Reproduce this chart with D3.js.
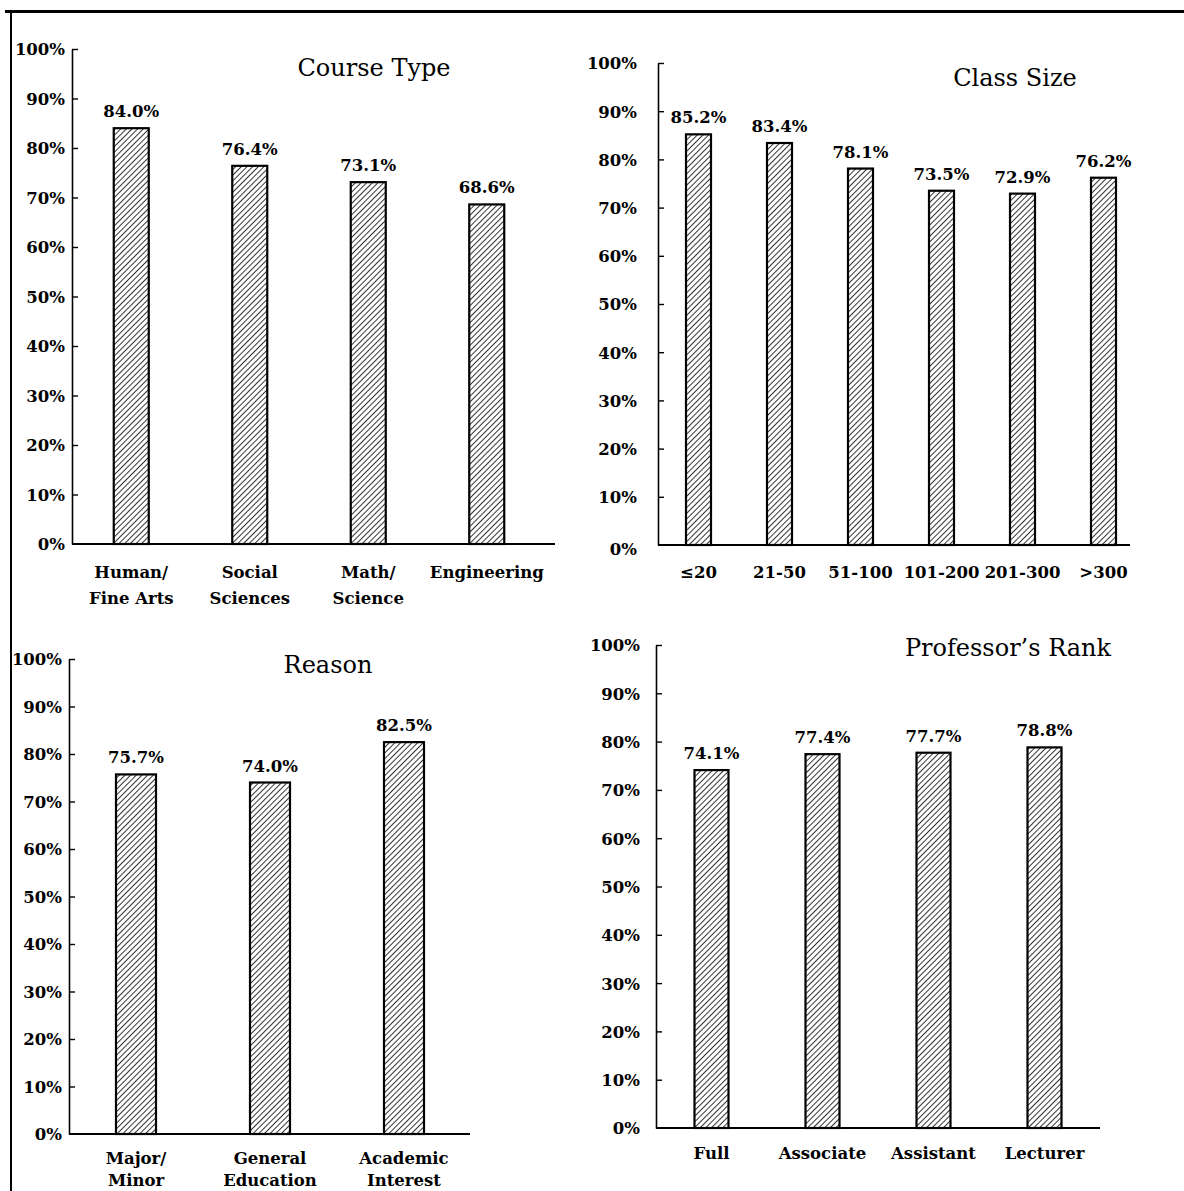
<!DOCTYPE html>
<html>
<head>
<meta charset="utf-8">
<script src="https://cdn.jsdelivr.net/npm/d3@7"></script>
<style>
  body { margin: 0; background: #fff; }
  svg { display: block; }
  .tick text { font-family: "DejaVu Serif", serif; font-weight: bold; font-size: 16.5px; fill: #000; }
</style>
</head>
<body>
<svg id="chart"></svg>
<script>
// data (percent)
const yTicks = [0, 10, 20, 30, 40, 50, 60, 70, 80, 90, 100];

const courseTypes = ["Human/\nFine Arts", "Social\nSciences", "Math/\nScience", "Engineering"];
const courseValues = [84.0, 76.4, 73.1, 68.6];

const classSizes = ["\u226420", "21-50", "51-100", "101-200", "201-300", ">300"];
const classValues = [85.2, 83.4, 78.1, 73.5, 72.9, 76.2];

const reasons = ["Major/\nMinor", "General\nEducation", "Academic\nInterest"];
const reasonValues = [75.7, 74.0, 82.5];

const ranks = ["Full", "Associate", "Assistant", "Lecturer"];
const rankValues = [74.1, 77.4, 77.7, 78.8];

const width = 1184, height = 1191;

const svg = d3.select('#chart')
    .attr('width', width)
    .attr('height', height);

// diagonal hatching for the bars
svg.append('defs').append('pattern')
    .attr('id', 'hatch')
    .attr('patternUnits', 'userSpaceOnUse')
    .attr('width', 4)
    .attr('height', 4)
    .attr('patternTransform', 'rotate(45)')
    .append('line')
    .attr('x1', 0).attr('y1', 0)
    .attr('x2', 0).attr('y2', 4)
    .attr('stroke', '#000')
    .attr('stroke-width', 1.6);

// page frame (top and left rule)
svg.append('line')
    .attr('x1', 5).attr('x2', width)
    .attr('y1', 11.5).attr('y2', 11.5)
    .attr('stroke', '#000').attr('stroke-width', 3);
svg.append('line')
    .attr('x1', 11).attr('x2', 11)
    .attr('y1', 10).attr('y2', height)
    .attr('stroke', '#000').attr('stroke-width', 2);

function drawPanel(cfg) {
    const g = svg.append('g');

    const yScale = d3.scaleLinear()
        .domain([0, 100])
        .range([cfg.y0, cfg.y100]);

    const xScale = d3.scalePoint()
        .domain(cfg.categories)
        .range([cfg.x0, cfg.x0 + cfg.step * cfg.categories.length])
        .padding(0.5);

    const yAxis = d3.axisLeft(yScale)
        .tickValues(yTicks)
        .tickFormat(d => d + '%')
        .tickSizeInner(-6)
        .tickSizeOuter(0)
        .tickPadding(cfg.labelGap);

    const yAxisGroup = g.append('g')
        .attr('transform', `translate(${cfg.x0}, 0)`)
        .call(yAxis);
    yAxisGroup.select('.domain').attr('stroke-width', 1.6);
    yAxisGroup.selectAll('.tick line').attr('stroke-width', 1.4);
    yAxisGroup.selectAll('.tick').filter(d => d === 0).remove();
    yAxisGroup.selectAll('.tick text').attr('dy', '0.36em');

    // 0% label sits slightly below the baseline
    g.append('text')
        .attr('x', cfg.x0 - cfg.labelGap)
        .attr('y', yScale(0) + 6 + cfg.zeroDrop)
        .attr('text-anchor', 'end')
        .style('font-family', '"DejaVu Serif", serif')
        .style('font-weight', 'bold')
        .style('font-size', '16.5px')
        .text('0%');

    // x baseline
    g.append('line')
        .attr('x1', cfg.x0).attr('x2', cfg.xEnd)
        .attr('y1', yScale(0)).attr('y2', yScale(0))
        .attr('stroke', '#000').attr('stroke-width', 2);

    const rows = cfg.categories.map((c, i) => ({ cat: c, value: cfg.values[i] }));

    g.selectAll('rect.bar')
        .data(rows)
        .join('rect')
        .attr('class', 'bar')
        .attr('x', d => xScale(d.cat) - cfg.barWidth / 2)
        .attr('y', d => yScale(d.value))
        .attr('width', cfg.barWidth)
        .attr('height', d => yScale(0) - yScale(d.value))
        .attr('fill', 'url(#hatch)')
        .attr('stroke', '#000')
        .attr('stroke-width', 2.2);

    // value labels
    g.selectAll('text.val')
        .data(rows)
        .join('text')
        .attr('class', 'val')
        .attr('x', d => xScale(d.cat))
        .attr('y', d => yScale(d.value) - 11)
        .attr('text-anchor', 'middle')
        .style('font-family', '"DejaVu Serif", serif')
        .style('font-weight', 'bold')
        .style('font-size', '16.5px')
        .text(d => d.value.toFixed(1) + '%');

    // category labels (may be two lines)
    const cats = g.selectAll('text.cat')
        .data(rows)
        .join('text')
        .attr('class', 'cat')
        .attr('text-anchor', 'middle')
        .style('font-family', '"DejaVu Serif", serif')
        .style('font-weight', 'bold')
        .style('font-size', '16.5px');
    cats.selectAll('tspan')
        .data(d => d.cat.split('\n').map(line => ({ line, x: xScale(d.cat) })))
        .join('tspan')
        .attr('x', d => d.x)
        .attr('y', (d, i) => yScale(0) + cfg.catDrop + i * cfg.lineGap)
        .text(d => d.line);

    // title
    g.append('text')
        .attr('x', cfg.titleX)
        .attr('y', cfg.titleY)
        .attr('text-anchor', 'middle')
        .style('font-family', '"DejaVu Serif", serif')
        .style('font-size', '24px')
        .text(cfg.title);
}

drawPanel({
    title: 'Course Type', titleX: 374, titleY: 76,
    categories: courseTypes, values: courseValues,
    x0: 72, step: 118.5, xEnd: 555, y0: 544, y100: 49,
    barWidth: 35, labelGap: 7, zeroDrop: 0, catDrop: 34, lineGap: 26
});

drawPanel({
    title: 'Class Size', titleX: 1015, titleY: 86,
    categories: classSizes, values: classValues,
    x0: 658, step: 81, xEnd: 1130, y0: 545, y100: 63,
    barWidth: 25, labelGap: 21, zeroDrop: 4, catDrop: 33, lineGap: 26
});

drawPanel({
    title: 'Reason', titleX: 328, titleY: 673,
    categories: reasons, values: reasonValues,
    x0: 69, step: 134, xEnd: 470, y0: 1134, y100: 659,
    barWidth: 40, labelGap: 7, zeroDrop: 0, catDrop: 30, lineGap: 22
});

drawPanel({
    title: 'Professor\u2019s Rank', titleX: 1008, titleY: 656,
    categories: ranks, values: rankValues,
    x0: 656, step: 111, xEnd: 1100, y0: 1128, y100: 645,
    barWidth: 34, labelGap: 16, zeroDrop: 0, catDrop: 31, lineGap: 26
});
</script>
</body>
</html>
